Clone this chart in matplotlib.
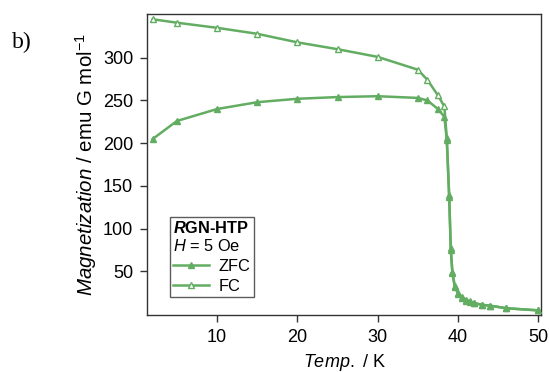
import matplotlib
matplotlib.use("Agg")
import matplotlib.pyplot as plt

plt.rcParams['font.family'] = ['Liberation Sans', 'DejaVu Sans']
plt.rcParams['mathtext.fontset'] = 'custom'
plt.rcParams['mathtext.rm'] = 'Liberation Sans'
plt.rcParams['mathtext.it'] = 'Liberation Sans:italic'
plt.rcParams['mathtext.bf'] = 'Liberation Sans:bold'
plt.rcParams['mathtext.bfit'] = 'Liberation Sans:bold:italic'

# ZFC / FC magnetization vs temperature
temp_zfc = [2, 5, 10, 15, 20, 25, 30, 35, 36.2, 37.5, 38.3, 38.6, 38.9,
            39.1, 39.3, 39.6, 40.0, 40.5, 41.0, 41.5, 42.0, 43.0,
            44.0, 46.0, 50.0]
mag_zfc = [205, 226, 240, 248, 252, 254, 255, 253, 250, 240, 231, 204, 137,
           75, 48, 32, 24, 19, 16, 14, 13, 11, 10, 7, 4.5]

temp_fc = [2, 5, 10, 15, 20, 25, 30, 35, 36.2, 37.5, 38.3, 38.6, 38.9,
           39.1, 39.3, 39.6, 40.0, 40.5, 41.0, 41.5, 42.0, 43.0,
           44.0, 46.0, 50.0]
mag_fc = [345, 341, 335, 328, 318, 310, 301, 286, 274, 256, 243, 206, 139,
          77, 49, 33, 25, 20, 17, 15, 13, 11, 10, 7, 4.5]

xticks = [10, 20, 30, 40, 50]
yticks = [50, 100, 150, 200, 250, 300]

green = '#62ad62'
fig = plt.figure(figsize=(5.49, 3.72), dpi=100)
ax = fig.add_axes([0.268, 0.153, 0.717, 0.809])

# FC first so the filled ZFC markers sit on top where the curves merge
ax.plot(temp_fc, mag_fc, color=green, lw=1.8, marker='^', ms=4.5,
        mfc='white', mec=green, mew=1.0, label='FC', zorder=2)
ax.plot(temp_zfc, mag_zfc, color=green, lw=1.8, marker='^', ms=4.5,
        mfc=green, mec=green, label='ZFC', zorder=3)

ax.set_xlim(1.3, 50.3)
ax.set_ylim(-1, 351)
ax.set_xticks(xticks)
ax.set_yticks(yticks)
ax.tick_params(direction='out', length=5, width=1, labelsize=13, pad=5,
               color='#333333')
for s in ax.spines.values():
    s.set_color('#333333')
    s.set_linewidth(1)

ax.set_xlabel(r'$\mathit{Temp.}$ / K', fontsize=13, labelpad=4)
ax.set_ylabel(r'$\mathit{Magnetization}$ / emu G mol$^{-1}$', fontsize=14.8, labelpad=3)

handles, labels = ax.get_legend_handles_labels()
leg = ax.legend(handles[::-1], labels[::-1], loc='lower left',
                bbox_to_anchor=(0.058, 0.06), borderaxespad=0,
                fontsize=11.8, frameon=True, fancybox=False, handlelength=2.2,
                handletextpad=0.6, labelspacing=0.3, borderpad=0.18,
                title='$\\mathbfit{R}\\mathbf{GN\u2010HTP}$\n$\\mathit{H}$ = 5 Oe',
                title_fontsize=11.8, alignment='left')
leg.get_frame().set_edgecolor('#333333')
leg.get_frame().set_linewidth(1)

fig.text(0.022, 0.87, 'b)', fontsize=17, family='Liberation Serif')

fig.savefig('out.png', dpi=100)
